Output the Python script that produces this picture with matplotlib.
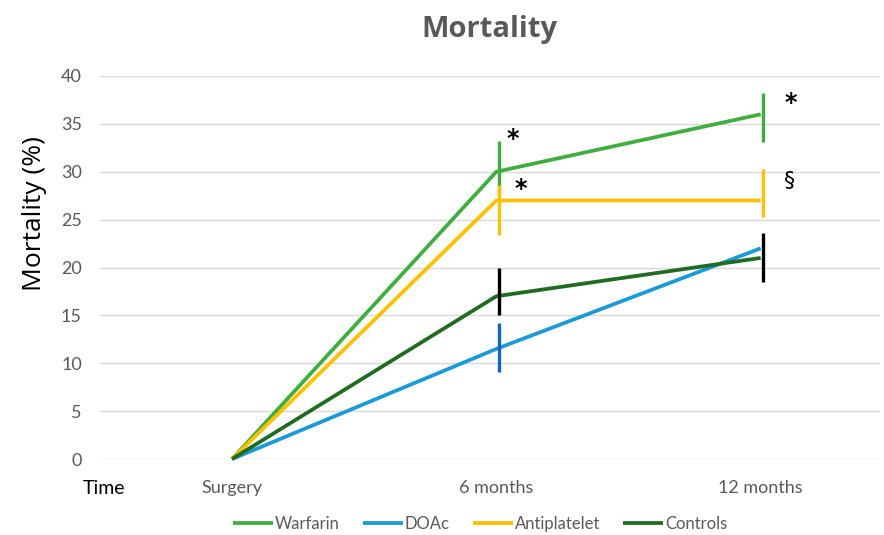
import matplotlib as mpl
from matplotlib import pyplot as plt

mpl.rcParams['font.family'] = ['Lato', 'DejaVu Sans']

categories = ['Surgery', '6 months', '12 months']
warfarin = [0, 30, 36]
doac = [0, 11.5, 22]
antiplatelet = [0, 27, 27]
controls = [0, 17, 21]

# vertical bar marks (low, high) at 6 and 12 months
warfarin_bars = [(27.6, 33.2), (33.1, 38.2)]
antiplatelet_bars = [(23.4, 28.6), (25.3, 30.3)]
controls_bars = [(15.0, 20.0), (18.5, 23.6)]
doac_bars = [(9.1, 14.2)]

# significance marks: (category index, y, symbol)
marks = [(1, 33.4, '*'), (1, 28.2, '*'), (2, 37.2, '*'), (2, 29.0, '§')]

colors = {
    'Warfarin': '#3fae3f',
    'DOAc': '#1a9ad8',
    'Antiplatelet': '#ffc000',
    'Controls': '#1f6b1f',
}
grey = '#595959'

fig = plt.figure(figsize=(8.84, 5.35), dpi=100)
ax = fig.add_axes([0.113, 0.142, 0.882, 0.716])

x = list(range(len(categories)))
series = [('Warfarin', warfarin), ('DOAc', doac),
          ('Antiplatelet', antiplatelet), ('Controls', controls)]
for name, vals in series:
    ax.plot(x, vals, color=colors[name], lw=2.7, label=name,
            solid_capstyle='butt', clip_on=False, zorder=3)

bar_sets = [(warfarin_bars, colors['Warfarin']),
            (antiplatelet_bars, colors['Antiplatelet']),
            (controls_bars, 'black'),
            (doac_bars, '#1565c0')]
for bars, c in bar_sets:
    for i, (lo, hi) in enumerate(bars):
        ax.vlines(i + 1.01, lo, hi, color=c, lw=2.4, zorder=4)

offsets = [0.04, 0.07, 0.09, 0.09]
for (xi, yi, s), dx in zip(marks, offsets):
    ax.text(xi + dx, yi, s, fontsize=17 if s == '*' else 16,
            fontweight='bold' if s == '*' else 'normal',
            ha='left', va='center', color='black', family='DejaVu Sans')

ax.set_xlim(-0.5, 2.45)
ax.set_ylim(0, 40)
ax.set_yticks(range(0, 41, 5))
ax.set_xticks(x)
ax.set_xticklabels(categories)
ax.tick_params(axis='both', length=0, labelsize=13, labelcolor=grey)
ax.tick_params(axis='y', pad=13)
ax.tick_params(axis='x', pad=15)
ax.grid(axis='y', color='#d9d9d9', lw=1)
ax.set_axisbelow(True)
for sp in ax.spines.values():
    sp.set_visible(False)

ax.set_ylabel('Mortality (%)', fontsize=19, color='black',
              family=['Open Sans', 'DejaVu Sans'])
ax.yaxis.set_label_coords(-0.068, 0.64)
ax.set_title('Mortality', fontsize=21, fontweight='bold', color=grey,
             family=['Open Sans', 'DejaVu Sans'], pad=28)
fig.text(0.094, 0.087, 'Time', fontsize=14, ha='left', va='center', color='black')

fig.legend(loc='center', bbox_to_anchor=(0.543, 0.02), ncol=4, frameon=False,
           fontsize=12, handlelength=2.4, handletextpad=0.1, columnspacing=1.4,
           labelcolor=grey)

fig.savefig('out.png', dpi=100)
